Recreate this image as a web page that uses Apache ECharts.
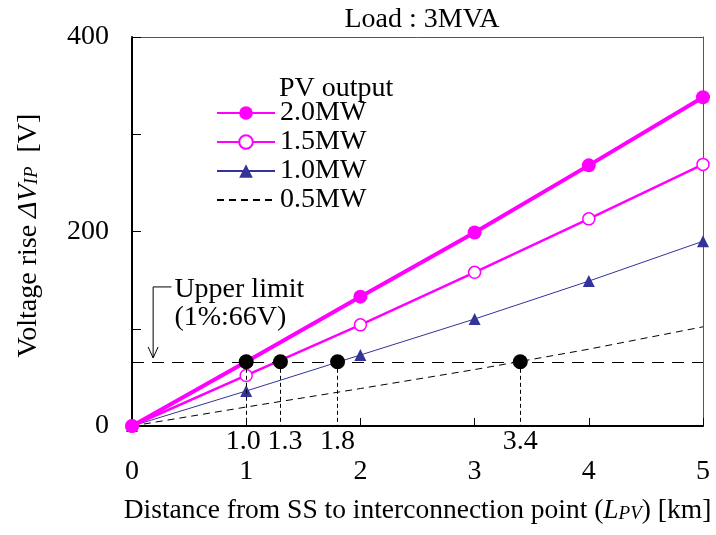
<!DOCTYPE html>
<html>
<head>
<meta charset="utf-8">
<script src="https://cdn.jsdelivr.net/npm/echarts@6/dist/echarts.min.js"></script>
<style>
  html, body { margin: 0; padding: 0; background: #fff; }
  #chart { width: 716px; height: 535px; }
</style>
</head>
<body>
<div id="chart"></div>
<script>
// distance from SS (km)
const distances = [0, 1, 2, 3, 4, 5]
// voltage rise (V) per PV output
const pv20 = [0, 66, 133, 199, 268, 338]
const pv15 = [0, 52, 104, 158, 213, 269]
const pv10 = [0, 36, 73, 110, 149, 190]
const pv05 = [0, 19.5, 38.5, 58, 79, 102]
const upperLimit = 66
// distances where each curve crosses the upper limit
const crossPoints = [1.0, 1.3, 1.8, 3.4]
const yTickLabels = [0, 200, 400]
const xTickLabels = [0, 1, 2, 3, 4, 5]

const FONT = '"Liberation Serif", "Times New Roman", serif'
const FS = 28
const MAGENTA = '#ff00ff'
const NAVY = '#333399'

const pairs = vals => distances.map((d, i) => [d, vals[i]])

const chart = echarts.init(document.getElementById('chart'))
const options = {
  animation: false,
  textStyle: { fontFamily: FONT, color: '#000' },
  title: [
    {
      text: 'Load : 3MVA',
      left: 417,
      textAlign: 'center',
      top: 1,
      textStyle: { fontFamily: FONT, fontSize: FS, fontWeight: 'normal', color: '#000' }
    },
    {
      text: 'PV output',
      left: 274,
      top: 70,
      textStyle: { fontFamily: FONT, fontSize: FS, fontWeight: 'normal', color: '#000' }
    }
  ],
  legend: {
    orient: 'vertical',
    left: 216,
    top: 99,
    padding: 0,
    itemWidth: 58,
    itemHeight: 17,
    itemGap: 1,
    selectedMode: false,
    textStyle: { fontFamily: FONT, fontSize: FS, color: '#000', lineHeight: 28 },
    data: [
      '2.0MW',
      '1.5MW',
      '1.0MW',
      { name: '0.5MW', itemStyle: { opacity: 0 } }
    ]
  },
  grid: { left: 132, right: 13, top: 37, bottom: 109 },
  xAxis: [
    {
      type: 'value',
      min: 0,
      max: 5,
      interval: 1,
      position: 'bottom',
      name: '{n|Distance from SS to interconnection point (}{i|L}{s|PV}{n|) [km]}',
      nameLocation: 'middle',
      nameGap: 71,
      nameTextStyle: {
        rich: {
          n: { fontFamily: FONT, fontSize: 27.5, color: '#000' },
          i: { fontFamily: FONT, fontSize: 27.5, fontStyle: 'italic', color: '#000' },
          s: { fontFamily: FONT, fontSize: 19, fontStyle: 'italic', color: '#000', padding: [6, 0, 0, 0] }
        }
      },
      axisLine: { show: true, onZero: false, lineStyle: { color: '#000', width: 2 } },
      axisTick: { show: true, inside: true, length: 8, lineStyle: { color: '#000', width: 1 } },
      axisLabel: {
        margin: 32,
        fontFamily: FONT,
        fontSize: FS,
        color: '#000',
        formatter: v => (xTickLabels.indexOf(v) >= 0 ? String(v) : '')
      },
      splitLine: { show: false }
    },
    {
      type: 'value',
      min: 0,
      max: 5,
      interval: 0.1,
      position: 'bottom',
      axisLine: { show: false },
      axisTick: { show: false },
      axisLabel: {
        margin: 2,
        fontFamily: FONT,
        fontSize: FS,
        color: '#000',
        showMinLabel: false,
        showMaxLabel: false,
        formatter: v => {
          const hit = crossPoints.find(c => Math.abs(c - v) < 1e-6)
          if (hit === undefined) return ''
          // nudge the two crowded labels apart like the original
          if (hit === 1.0) return '{l|1.0}'
          if (hit === 1.3) return '{r|1.3}'
          return hit.toFixed(1)
        },
        rich: {
          l: { fontFamily: FONT, fontSize: FS, color: '#000', padding: [0, 6, 0, 0] },
          r: { fontFamily: FONT, fontSize: FS, color: '#000', padding: [0, 0, 0, 9] }
        }
      },
      splitLine: { show: false }
    },
    {
      type: 'value',
      min: 0,
      max: 5,
      position: 'top',
      axisLine: { show: true, onZero: false, lineStyle: { color: '#555', width: 1 } },
      axisTick: { show: false },
      axisLabel: { show: false },
      splitLine: { show: false }
    }
  ],
  yAxis: [
    {
      type: 'value',
      min: 0,
      max: 400,
      interval: 100,
      name: '{n|Voltage rise }{i|ΔV}{s|IP}{n|  [V]}',
      nameLocation: 'middle',
      nameGap: 89,
      nameTextStyle: {
        padding: [0, 8, 0, 0],
        rich: {
          n: { fontFamily: FONT, fontSize: FS, color: '#000' },
          i: { fontFamily: FONT, fontSize: FS, fontStyle: 'italic', color: '#000' },
          s: { fontFamily: FONT, fontSize: 19, fontStyle: 'italic', color: '#000', padding: [6, 0, 0, 0] }
        }
      },
      axisLine: { show: true, onZero: false, lineStyle: { color: '#000', width: 2 } },
      axisTick: { show: true, inside: true, length: 9, lineStyle: { color: '#000', width: 1 } },
      axisLabel: {
        margin: 23,
        fontFamily: FONT,
        fontSize: FS,
        color: '#000',
        formatter: v => (yTickLabels.indexOf(v) >= 0 ? String(v) : '')
      },
      splitLine: { show: false }
    },
    {
      type: 'value',
      min: 0,
      max: 400,
      position: 'right',
      axisLine: { show: true, onZero: false, lineStyle: { color: '#555', width: 1 } },
      axisTick: { show: false },
      axisLabel: { show: false },
      splitLine: { show: false }
    }
  ],
  series: [
    {
      name: '0.5MW',
      type: 'line',
      data: pairs(pv05),
      symbol: 'none',
      lineStyle: { color: '#000', width: 1, type: [7, 5] },
      itemStyle: { color: '#000' },
      z: 2,
      markLine: {
        silent: true,
        symbol: 'none',
        label: { show: false },
        lineStyle: { color: '#000', width: 1, type: [12, 8] },
        data: [
          [{ coord: [0, upperLimit] }, { coord: [5, upperLimit] }]
        ]
      }
    },
    {
      name: '1.0MW',
      type: 'line',
      data: pairs(pv10),
      symbol: 'triangle',
      symbolSize: 12,
      lineStyle: { color: NAVY, width: 1 },
      itemStyle: { color: NAVY },
      z: 3
    },
    {
      name: '1.5MW',
      type: 'line',
      data: pairs(pv15),
      symbol: 'circle',
      symbolSize: 12,
      showAllSymbol: true,
      lineStyle: { color: MAGENTA, width: 2.5 },
      itemStyle: { color: '#fff', borderColor: MAGENTA, borderWidth: 1.5 },
      z: 4
    },
    {
      name: '2.0MW',
      type: 'line',
      data: pairs(pv20),
      symbol: 'circle',
      symbolSize: 14,
      lineStyle: { color: MAGENTA, width: 4 },
      itemStyle: { color: MAGENTA },
      z: 5
    },
    {
      name: 'limit',
      type: 'scatter',
      data: crossPoints.map(c => [c, upperLimit]),
      symbolSize: 15,
      itemStyle: { color: '#000', opacity: 1 },
      z: 6,
      markLine: {
        silent: true,
        symbol: 'none',
        label: { show: false },
        lineStyle: { color: '#000', width: 1, type: [4, 3] },
        data: crossPoints.map(c => [{ coord: [c, upperLimit] }, { coord: [c, 0] }])
      }
    }
  ]
}
chart.setOption(options)

// "Upper limit" annotation with a bent arrow pointing at the 66 V line
const arrowTop = chart.convertToPixel({ gridIndex: 0 }, [0.185, 143])
const arrowTip = chart.convertToPixel({ gridIndex: 0 }, [0.185, upperLimit + 4])
const arrowElbow = chart.convertToPixel({ gridIndex: 0 }, [0.345, 143])
chart.setOption({
  graphic: [
    {
      type: 'polyline',
      shape: { points: [[arrowElbow[0], arrowElbow[1]], [arrowTop[0], arrowTop[1]], [arrowTip[0], arrowTip[1]]] },
      style: { stroke: '#000', lineWidth: 1, fill: null },
      z: 10
    },
    {
      type: 'polyline',
      shape: { points: [[arrowTip[0] - 5, arrowTip[1] - 11], [arrowTip[0], arrowTip[1]], [arrowTip[0] + 5, arrowTip[1] - 11]] },
      style: { stroke: '#000', lineWidth: 1, fill: null },
      z: 10
    },
    {
      type: 'text',
      left: arrowElbow[0] + 3,
      top: arrowElbow[1] - 11,
      style: { text: 'Upper limit', font: FS + 'px ' + FONT, fill: '#000' },
      z: 10
    },
    {
      type: 'text',
      left: arrowElbow[0] + 3,
      top: arrowElbow[1] + 17,
      style: { text: '(1%:66V)', font: FS + 'px ' + FONT, fill: '#000' },
      z: 10
    }
  ]
})
</script>
</body>
</html>
